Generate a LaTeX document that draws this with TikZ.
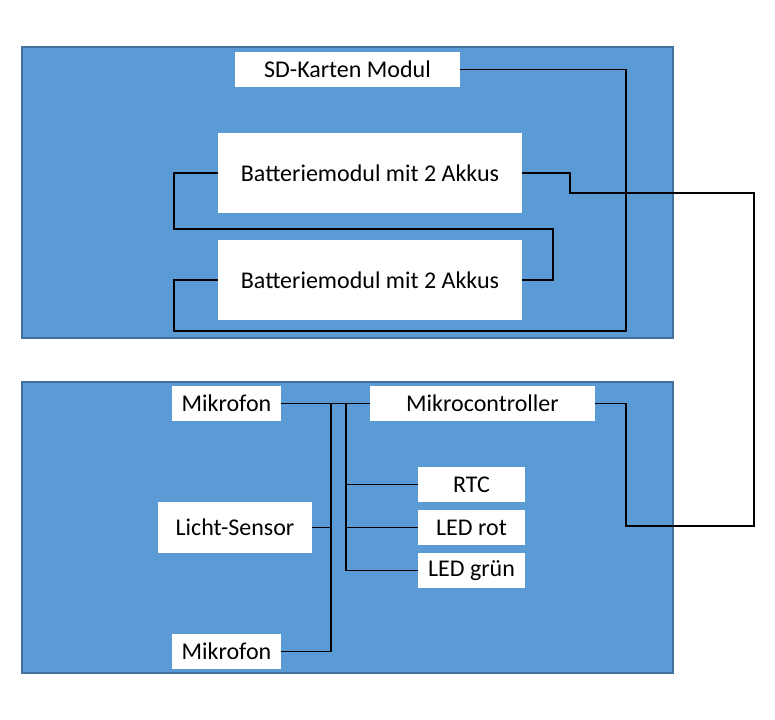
\documentclass[tikz,border=0pt]{standalone}
\usepackage{fontspec}
\setmainfont{Carlito}
\definecolor{panelfill}{HTML}{5B9BD5}
\definecolor{paneledge}{HTML}{41719C}
\begin{document}
\begin{tikzpicture}[x=0.75pt,y=-0.75pt,
  panel/.style={fill=panelfill,draw=paneledge,line width=0.8pt},
  wbox/.style={fill=white,draw=none,inner sep=0pt,font=\fontsize{18}{21.6}\selectfont},
  wire/.style={draw=black,line width=0.8pt},
  thickwire/.style={draw=black,line width=1.6pt}]
\useasboundingbox (0,0) rectangle (775,720);
% panels
\path[panel] (22,47) rectangle (673,338);
\path[panel] (22,382) rectangle (673,673);
% top nodes
\node[wbox,minimum width=168.75pt,minimum height=26.25pt] (sd) at (347.5,69.5) {SD-Karten Modul};
\node[wbox,minimum width=228pt,minimum height=60pt] (bat1) at (370,173) {Batteriemodul mit 2 Akkus};
\node[wbox,minimum width=228pt,minimum height=60pt] (bat2) at (370,280) {Batteriemodul mit 2 Akkus};
% bottom nodes
\node[wbox,minimum width=81.75pt,minimum height=26.25pt] (mic1) at (226.5,403.5) {Mikrofon};
\node[wbox,minimum width=168.75pt,minimum height=26.25pt] (mc) at (482.5,403.5) {Mikrocontroller};
\node[wbox,minimum width=115.5pt,minimum height=38.25pt] (ls) at (235,527.5) {Licht-Sensor};
\node[wbox,minimum width=80.25pt,minimum height=26.25pt] (rtc) at (471.5,484.5) {RTC};
\node[wbox,minimum width=80.25pt,minimum height=26.25pt] (ledr) at (471.5,527.5) {LED rot};
\node[wbox,minimum width=80.25pt,minimum height=26.25pt] (ledg) at (471.5,570.5) {LED grün};
\node[wbox,minimum width=81.75pt,minimum height=26.25pt] (mic2) at (226.5,651.5) {Mikrofon};
% coordinates
\coordinate (c1) at (626,331);
\coordinate (c2) at (174,331);
\coordinate (c3) at (174,229);
\coordinate (c4) at (553,229);
\coordinate (d1) at (570,193);
\coordinate (d2) at (754,193);
\coordinate (d3) at (754,526);
\coordinate (d4) at (626,526);
\coordinate (k1) at (673,193);
\coordinate (k2) at (673,526);
\coordinate (b1) at (331,403.5);
\coordinate (b2) at (346,403.5);
% top wires
\draw[wire] (sd.east) -| (c1) -- (c2) |- (bat2.west);
\draw[wire] (bat1.west) -| (c3) -- (c4) |- (bat2.east);
\draw[wire] (bat1.east) -| (d1) -- (d2) -- (d3) -- (d4) |- (mc.east);
\draw[thickwire] (k1) -- (d2) -- (d3) -- (k2);
% bottom wires
\draw[wire] (mic1.east) -- (mc.west);
\draw[wire] (mic2.east) -| (b1);
\draw[wire] (ls.east) -- (ls.east -| b1);
\draw[wire] (b2) |- (rtc.west);
\draw[wire] (b2) |- (ledr.west);
\draw[wire] (b2) |- (ledg.west);
\end{tikzpicture}
\end{document}
